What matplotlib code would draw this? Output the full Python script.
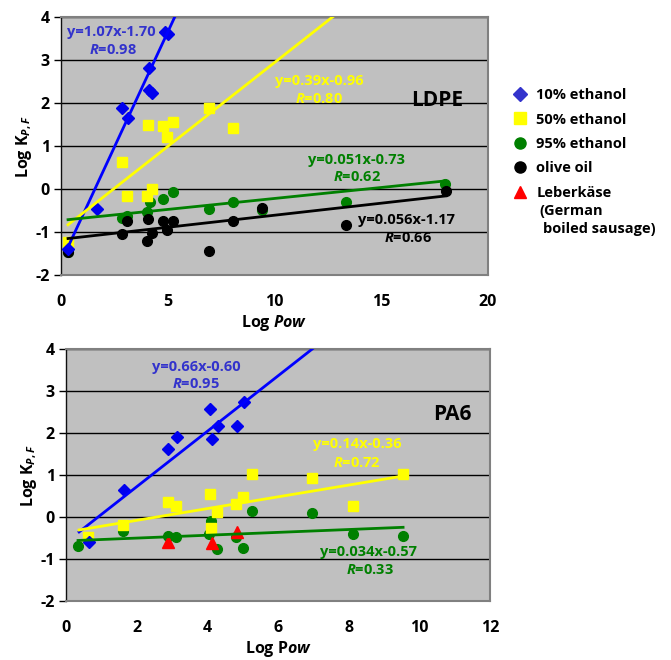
import matplotlib
matplotlib.use("Agg")
import matplotlib.pyplot as plt
import numpy as np
from matplotlib.lines import Line2D

plt.rcParams['font.family'] = ['Open Sans', 'DejaVu Sans']
plt.rcParams['font.weight'] = 'bold'
plt.rcParams['axes.unicode_minus'] = False
plt.rcParams['mathtext.fontset'] = 'custom'
plt.rcParams['mathtext.rm'] = 'Open Sans:bold'
plt.rcParams['mathtext.it'] = 'Open Sans:italic:bold'
plt.rcParams['mathtext.bf'] = 'Open Sans:bold'

# ---------------- LDPE data ----------------
ldpe_e10_x = [0.33, 1.69, 2.86, 3.14, 4.12, 4.12, 4.26, 4.87, 5.0]
ldpe_e10_y = [-1.40, -0.47, 1.88, 1.65, 2.81, 2.30, 2.23, 3.65, 3.60]
ldpe_e50_x = [0.33, 2.86, 3.09, 4.03, 4.07, 4.26, 4.78, 4.97, 5.25, 6.93, 8.06]
ldpe_e50_y = [-1.23, 0.63, -0.16, -0.16, 1.49, 0.0, 1.47, 1.20, 1.56, 1.88, 1.42]
ldpe_e95_x = [0.33, 2.86, 3.09, 4.03, 4.17, 4.78, 5.25, 6.93, 8.06, 9.4, 13.35, 18.0]
ldpe_e95_y = [-1.47, -0.67, -0.63, -0.53, -0.30, -0.23, -0.07, -0.47, -0.30, -0.49, -0.30, 0.12]
ldpe_oil_x = [0.33, 2.86, 3.09, 4.03, 4.08, 4.26, 4.78, 4.97, 5.25, 6.93, 8.06, 9.41, 13.35, 18.03]
ldpe_oil_y = [-1.47, -1.05, -0.74, -1.21, -0.70, -1.02, -0.74, -0.95, -0.74, -1.44, -0.74, -0.44, -0.84, -0.05]
ldpe_fits = {  # slope, intercept, x-start
    'e10': (1.07, -1.70, 0.33),
    'e50': (0.39, -0.96, 0.33),
    'e95': (0.051, -0.73, 0.33),
    'oil': (0.056, -1.17, 0.33),
}

# ---------------- PA6 data ----------------
pa6_e10_x = [0.65, 1.64, 2.89, 3.14, 4.08, 4.13, 4.30, 4.84, 5.04]
pa6_e10_y = [-0.60, 0.64, 1.62, 1.90, 2.57, 1.86, 2.17, 2.17, 2.74]
pa6_e50_x = [0.62, 1.61, 2.89, 3.11, 4.08, 4.10, 4.27, 4.81, 5.01, 5.26, 6.96, 8.12, 9.54]
pa6_e50_y = [-0.48, -0.19, 0.36, 0.26, 0.55, -0.26, 0.12, 0.31, 0.48, 1.02, 0.93, 0.26, 1.02]
pa6_e95_x = [0.34, 1.61, 2.89, 3.11, 4.05, 4.10, 4.27, 4.81, 5.01, 5.26, 6.96, 8.12, 9.54]
pa6_e95_y = [-0.69, -0.33, -0.45, -0.48, -0.40, -0.10, -0.76, -0.48, -0.74, 0.14, 0.10, -0.40, -0.45]
pa6_leb_x = [2.89, 4.13, 4.84]
pa6_leb_y = [-0.60, -0.62, -0.36]
pa6_fits = {
    'e10': (0.66, -0.60, 0.37),
    'e50': (0.14, -0.36, 0.37),
    'e95': (0.034, -0.57, 0.34),
}

C_BLUE_M = '#0000EE'
C_BLUE_L = '#0000FF'
C_BLUE_T = '#3333CC'
C_YEL = '#FFFF00'
C_GRN = '#008000'
C_BLK = '#000000'
C_RED = '#FF0000'

fig = plt.figure(figsize=(6.71, 6.60), dpi=100)

def style_ax(ax, xmax, xstep):
    ax.set_facecolor('#C0C0C0')
    ax.set_xlim(0, xmax)
    ax.set_ylim(-2, 4)
    ax.set_yticks(range(-2, 5))
    ax.set_xticks(np.arange(0, xmax + 0.1, xstep))
    ax.grid(axis='y', color='black', linewidth=1.0)
    ax.set_axisbelow(True)
    for s in ['top', 'right', 'bottom']:
        ax.spines[s].set_color('#808080')
        ax.spines[s].set_linewidth(1.5)
    ax.spines['left'].set_color('#101010')
    ax.spines['left'].set_linewidth(1.0)
    ax.tick_params(axis='y', length=5, width=1, pad=3, labelsize=11.5)
    ax.tick_params(axis='x', length=0, pad=14, labelsize=11.5)
    for lab in ax.get_xticklabels() + ax.get_yticklabels():
        lab.set_fontweight('bold')
    ax.set_ylabel(r'Log K$_{\mathit{P,F}}$', fontsize=11.5, fontweight='bold', labelpad=1)

def fit_line(ax, fit, xs, color, lw=2.0):
    m, b, x0 = fit
    x1 = max(xs)
    xx = np.array([x0, x1])
    ax.plot(xx, m * xx + b, color=color, linewidth=lw, zorder=4, clip_on=True)

def ann(ax, x, y, eq, color):
    ax.text(x, y, eq, color=color, fontsize=10.5, fontweight='bold', ha='center', va='center', zorder=6)

def annR(ax, x, y, r, color):
    ax.text(x, y, r'$\mathit{R}$=' + r, color=color, fontsize=10.5, fontweight='bold', ha='center', va='center', zorder=6)

def px2d1(px, py):
    return ((px - 61) / 21.35, 4 - (py - 17) / 43.0)

def px2d2(px, py):
    return ((px - 66) / 35.33, 4 - (py - 349) / 42.0)

# ---------------- Top plot ----------------
ax1 = fig.add_axes([61/671, 1 - 275/660, (488-61)/671, (275-17)/660])
style_ax(ax1, 20, 5)
ax1.set_xlabel(r'Log $\mathit{Pow}$', fontsize=11.5, fontweight='bold', labelpad=2)

ax1.plot(ldpe_e95_x, ldpe_e95_y, 'o', color=C_GRN, markersize=7, zorder=3)
ax1.plot(ldpe_oil_x, ldpe_oil_y, 'o', color=C_BLK, markersize=7, zorder=3)
ax1.plot(ldpe_e50_x, ldpe_e50_y, 's', color=C_YEL, markersize=7, zorder=3)
ax1.plot(ldpe_e10_x, ldpe_e10_y, 'D', color=C_BLUE_M, markersize=6, zorder=3)
fit_line(ax1, ldpe_fits['e10'], [6.0], C_BLUE_L)
fit_line(ax1, ldpe_fits['e50'], [14.0], C_YEL)
fit_line(ax1, ldpe_fits['e95'], ldpe_e95_x, C_GRN)
fit_line(ax1, ldpe_fits['oil'], ldpe_oil_x, C_BLK)

x, y = px2d1(111, 32); ann(ax1, x, y, 'y=1.07x-1.70', C_BLUE_T)
x, y = px2d1(113, 50); annR(ax1, x, y, '0.98', C_BLUE_T)
x, y = px2d1(319, 81); ann(ax1, x, y, 'y=0.39x-0.96', C_YEL)
x, y = px2d1(319, 99); annR(ax1, x, y, '0.80', C_YEL)
x, y = px2d1(437, 100)
ax1.text(x, y, 'LDPE', fontsize=15, fontweight='bold', ha='center', va='center', color='black')
x, y = px2d1(357, 160); ann(ax1, x, y, 'y=0.051x-0.73', C_GRN)
x, y = px2d1(357, 177); annR(ax1, x, y, '0.62', C_GRN)
x, y = px2d1(407, 220); ann(ax1, x, y, 'y=0.056x-1.17', C_BLK)
x, y = px2d1(408, 238); annR(ax1, x, y, '0.66', C_BLK)

# ---------------- Bottom plot ----------------
ax2 = fig.add_axes([66/671, 1 - 601/660, (490-66)/671, (601-349)/660])
style_ax(ax2, 12, 2)
ax2.set_xlabel(r'Log P$\mathit{ow}$', fontsize=11.5, fontweight='bold', labelpad=2)

ax2.plot(pa6_e95_x, pa6_e95_y, 'o', color=C_GRN, markersize=7, zorder=3)
ax2.plot(pa6_e50_x, pa6_e50_y, 's', color=C_YEL, markersize=7, zorder=3)
ax2.plot(pa6_leb_x, pa6_leb_y, '^', color=C_RED, markersize=8, zorder=3)
ax2.plot(pa6_e10_x, pa6_e10_y, 'D', color=C_BLUE_M, markersize=6, zorder=3)
fit_line(ax2, pa6_fits['e10'], [8.0], C_BLUE_L)
fit_line(ax2, pa6_fits['e50'], pa6_e50_x, C_YEL)
fit_line(ax2, pa6_fits['e95'], pa6_e95_x, C_GRN)

x, y = px2d2(196, 367); ann(ax2, x, y, 'y=0.66x-0.60', C_BLUE_T)
x, y = px2d2(196, 384); annR(ax2, x, y, '0.95', C_BLUE_T)
x, y = px2d2(357, 444); ann(ax2, x, y, 'y=0.14x-0.36', C_YEL)
x, y = px2d2(357, 463); annR(ax2, x, y, '0.72', C_YEL)
x, y = px2d2(452, 414)
ax2.text(x, y, 'PA6', fontsize=15, fontweight='bold', ha='center', va='center', color='black')
x, y = px2d2(368, 552); ann(ax2, x, y, 'y=0.034x-0.57', C_GRN)
x, y = px2d2(370, 570); annR(ax2, x, y, '0.33', C_GRN)

# ---------------- Legend ----------------
labels = ['10% ethanol', '50% ethanol', '95% ethanol', 'olive oil', 'Leberkäse']
handles = [
    Line2D([], [], marker='D', color='#3333CC', linestyle='none', markersize=7),
    Line2D([], [], marker='s', color=C_YEL, linestyle='none', markersize=8),
    Line2D([], [], marker='o', color=C_GRN, linestyle='none', markersize=8),
    Line2D([], [], marker='o', color=C_BLK, linestyle='none', markersize=8),
    Line2D([], [], marker='^', color=C_RED, linestyle='none', markersize=8),
]
leg = fig.legend(handles, labels, loc='upper left', bbox_to_anchor=(513/671, 1 - 88/660),
                 frameon=False, prop={'weight': 'bold', 'size': 10.5},
                 handlelength=1.0, handletextpad=0.6, labelspacing=0.72,
                 borderaxespad=0, borderpad=0)
fig.text(539/671, 1 - 211/660, '(German', fontsize=10.5, fontweight='bold', ha='left', va='center')
fig.text(543/671, 1 - 229/660, 'boiled sausage)', fontsize=10.5, fontweight='bold', ha='left', va='center')

fig.savefig('out.png', dpi=100)
